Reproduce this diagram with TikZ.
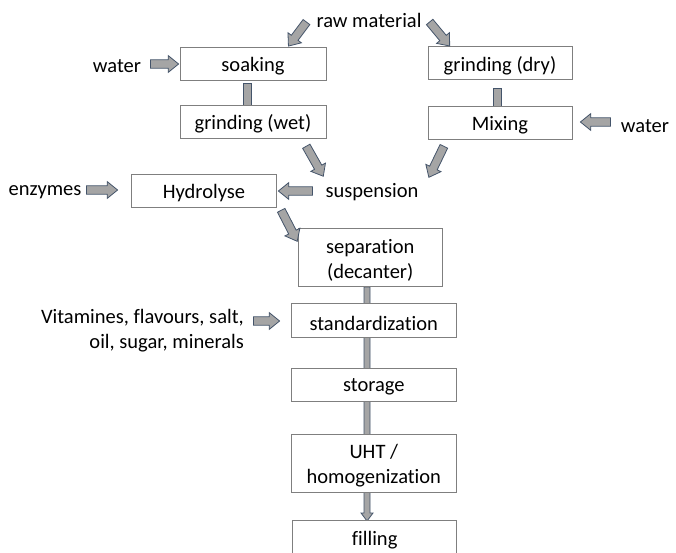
\documentclass[tikz,border=0pt]{standalone}
\usepackage{fontspec}
\setmainfont{Carlito}[Ligatures={NoCommon}]
\usetikzlibrary{shapes.arrows,calc,backgrounds}
\definecolor{afill}{HTML}{A5A5A5}
\definecolor{aline}{HTML}{44546A}
\definecolor{bline}{HTML}{7F7F7F}
\newcommand\blockarr[2]{%
  \path let \p1=(#1), \p2=(#2), \n1={atan2(\y2-\y1,\x2-\x1)}, \n2={veclen(\x2-\x1,\y2-\y1)} in
    node[barr, minimum height=\n2, rotate=\n1] at ($(\p1)!0.5!(\p2)$) {};}
\newcommand\lw[1]{\raisebox{-2.5pt}[\height][\depth]{#1}}
\tikzset{
  txt/.style={font=\fontsize{20.5}{25}\selectfont, inner sep=0pt},
  lbl/.style={txt, yshift=-2.5pt},
  box/.style={txt, draw=bline, fill=white, line width=0.9pt, align=center},
  barr/.style={single arrow, draw=aline, fill=afill, line width=0.8pt,
    inner xsep=0pt, inner ysep=3.8pt, single arrow head extend=4.2pt,
    single arrow tip angle=78, minimum width=0pt},
  barfill/.style={draw=aline, fill=afill, line width=0.8pt},
}
\begin{document}
\begin{tikzpicture}[x=1pt,y=-1pt]
\useasboundingbox (0,0) rectangle (676,553);
% boxes
\node[box, minimum width=146, minimum height=33] (soak) at (253,63.5) {\lw{soaking}};
\node[box, minimum width=146, minimum height=33] (gwet) at (253,121.5) {\lw{grinding (wet)}};
\node[box, minimum width=144, minimum height=33] (gdry) at (500,63) {\lw{grinding (dry)}};
\node[box, minimum width=144, minimum height=33] (mix) at (500,122.5) {\lw{Mixing}};
\node[box, minimum width=145, minimum height=33] (hyd) at (204,190.5) {\lw{Hydrolyse}};
\node[box, minimum width=144.5, minimum height=58.4] (sep) at (370.2,257.5) {\lw{separation}\\\lw{(decanter)}};
\node[box, minimum width=164.3, minimum height=34] (std) at (373.8,320.5) {\lw{standardization}};
\node[box, minimum width=164.3, minimum height=32.7] (sto) at (373.8,384.7) {\lw{storage}};
\node[box, minimum width=164.3, minimum height=58.3] (uht) at (373.8,463.2) {\lw{UHT /}\\\lw{homogenization}};
\node[box, minimum width=164, minimum height=34] (fill) at (374.7,537.7) {\lw{filling}};
% labels
\node[lbl] (raw) at (369,18) {raw material};
\node[lbl] (w1) at (117,64) {water};
\node[lbl] (w2) at (645,124) {water};
\node[lbl] (enz) at (45,190) {enzymes};
\node[lbl] (susp) at (372,190) {suspension};
\node[lbl, align=right, anchor=east] (vit) at (244,328) {Vitamines, flavours, salt,\\oil, sugar, minerals};
% bars and long arrow behind boxes
\begin{pgfonlayer}{background}
\coordinate (b1t) at (247,83); \coordinate (b1b) at (247,105);
\draw[barfill] ($(b1t)+(-4,0)$) rectangle ($(b1b)+(4,0)$);
\coordinate (b2t) at (497,88); \coordinate (b2b) at (497,106);
\draw[barfill] ($(b2t)+(-4,0)$) rectangle ($(b2b)+(4,0)$);
\coordinate (lt) at (367,287); \coordinate (lh) at (367,521);
\draw[barfill] ($(lt)+(-3,0)$) -- ($(lh)+(-3,-8)$) -- ($(lh)+(-6,-8)$) -- (lh)
  -- ($(lh)+(6,-8)$) -- ($(lh)+(3,-8)$) -- ($(lt)+(3,0)$) -- cycle;
\end{pgfonlayer}
% block arrows
\coordinate (a1s) at (308,20);  \coordinate (a1e) at (290,44);
\coordinate (a2s) at (428,20);  \coordinate (a2e) at (448,44);
\coordinate (a3s) at (148,64);  \coordinate (a3e) at (176,64);
\coordinate (a4s) at (613,122); \coordinate (a4e) at (583,122);
\coordinate (a5s) at (305,144); \coordinate (a5e) at (322,174);
\coordinate (a6s) at (445,144); \coordinate (a6e) at (430,175);
\coordinate (a7s) at (315,191); \coordinate (a7e) at (281,191);
\coordinate (a8s) at (84,190);  \coordinate (a8e) at (115,190);
\coordinate (a9s) at (280,208); \coordinate (a9e) at (296,239);
\coordinate (a10s) at (251,321); \coordinate (a10e) at (277,321);
\blockarr{a1s}{a1e}
\blockarr{a2s}{a2e}
\blockarr{a3s}{a3e}
\blockarr{a4s}{a4e}
\blockarr{a5s}{a5e}
\blockarr{a6s}{a6e}
\blockarr{a7s}{a7e}
\blockarr{a8s}{a8e}
\blockarr{a9s}{a9e}
\blockarr{a10s}{a10e}
\end{tikzpicture}
\end{document}
